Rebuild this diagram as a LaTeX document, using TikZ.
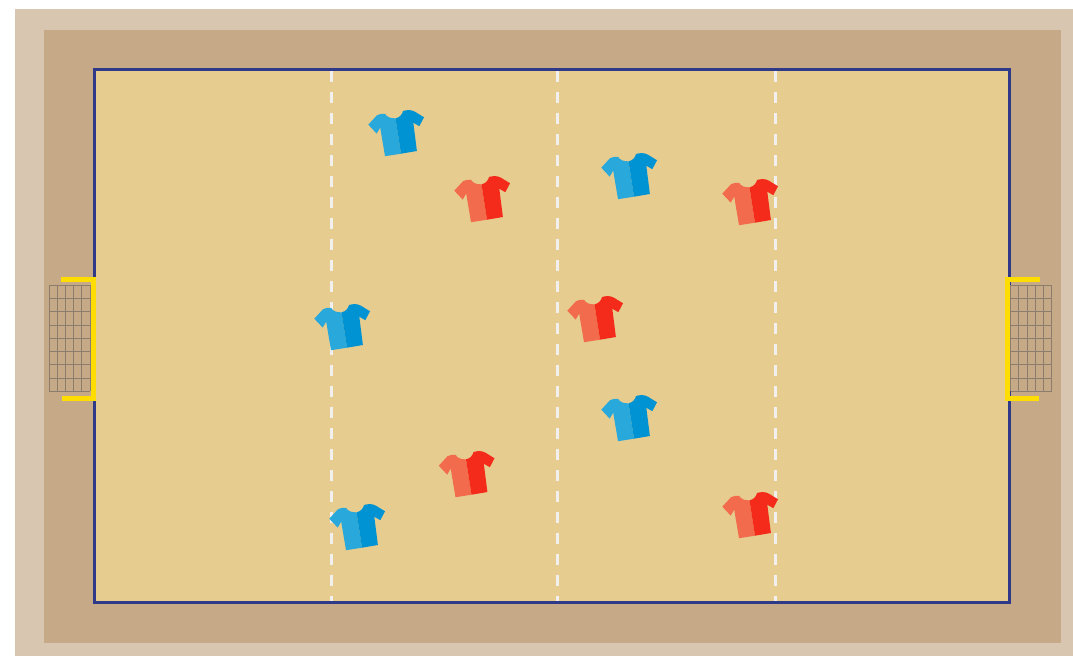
\documentclass[tikz,border=0pt]{standalone}
\definecolor{outerc}{HTML}{D8C6B1}
\definecolor{innerc}{HTML}{C6A987}
\definecolor{courtc}{HTML}{E6CC8F}
\definecolor{linec}{HTML}{2E3A87}
\definecolor{goalc}{HTML}{FFDD00}
\definecolor{netc}{HTML}{8C7C6C}
\definecolor{dashc}{HTML}{F1F0EE}
\definecolor{bluel}{HTML}{29A8DC}
\definecolor{blued}{HTML}{0093D3}
\definecolor{redl}{HTML}{F26B4D}
\definecolor{redd}{HTML}{F42A1A}
\tikzset{
  x=1pt,y=-1pt,
  halfdash/.style={draw=dashc,line width=3.3pt,dash pattern=on 11pt off 10pt},
  netline/.style={draw=netc,line width=1pt},
  pics/shirt/.style n args={2}{code={
    % coordinates relative to the top-left of the shirt's box
    \fill[#1] (0.3,14.7) -- (9,5.2) .. controls (11.5,4) and (14,3.6) .. (17,3.8)
      .. controls (19,7) and (22.5,8.6) .. (27.5,8.3)
      -- (33,43.7) -- (17,46.2) -- (12.2,17.6) -- (8.7,23.6) -- cycle;
    \fill[#2] (27.5,8.3) .. controls (31.5,7.6) and (34,4.8) .. (35.1,0.9)
      .. controls (37,0.1) and (38.5,0) .. (40.3,0)
      .. controls (43,0) and (45,0.7) .. (47,1.7) -- (56,7.3) -- (51.3,16.2)
      -- (45.3,12.7) -- (48.9,41) -- (33,43.7) -- cycle;
  }},
}
\begin{document}
\begin{tikzpicture}
\useasboundingbox (0,0) rectangle (1073,656);
\fill[outerc] (15,9) rectangle (1073,656);
\fill[innerc] (44,30) rectangle (1061,643);
\filldraw[fill=courtc,draw=linec,line width=3pt] (94.5,69.5) rectangle (1009.5,602.5);
% halfway and attack lines
\coordinate (a1) at (331.5,71); \coordinate (a2) at (331.5,601);
\coordinate (b1) at (557.5,71); \coordinate (b2) at (557.5,601);
\coordinate (c1) at (775.5,71); \coordinate (c2) at (775.5,601);
\draw[halfdash] (a1) -- (a2);
\draw[halfdash] (b1) -- (b2);
\draw[halfdash] (c1) -- (c2);
% nets
\foreach \i in {0,...,5} {
  \draw[netline] ({49.3+8.14*\i},285.3) -- ({49.3+8.14*\i},391.3);
  \draw[netline] ({1010.7+8.2*\i},285.3) -- ({1010.7+8.2*\i},391.3);
}
\foreach \j in {0,...,8} {
  \draw[netline] (49.3,{285.3+13.25*\j}) -- (90,{285.3+13.25*\j});
  \draw[netline] (1010.7,{285.3+13.25*\j}) -- (1051.7,{285.3+13.25*\j});
}
% goals
\fill[goalc] (61,277) rectangle (96,282);
\fill[goalc] (91,277) rectangle (96,401);
\fill[goalc] (62,396) rectangle (96,401);
\fill[goalc] (1005,277) rectangle (1040,282);
\fill[goalc] (1005,277) rectangle (1010,401);
\fill[goalc] (1005,396) rectangle (1039,401);
% players
\pic at (368,110) {shirt={bluel}{blued}};
\pic at (601,153) {shirt={bluel}{blued}};
\pic at (314,304) {shirt={bluel}{blued}};
\pic at (601,395) {shirt={bluel}{blued}};
\pic at (329,504) {shirt={bluel}{blued}};
\pic at (454,176) {shirt={redl}{redd}};
\pic at (722,179) {shirt={redl}{redd}};
\pic at (567,296) {shirt={redl}{redd}};
\pic at (438.5,451) {shirt={redl}{redd}};
\pic at (722,492) {shirt={redl}{redd}};
\end{tikzpicture}
\end{document}
